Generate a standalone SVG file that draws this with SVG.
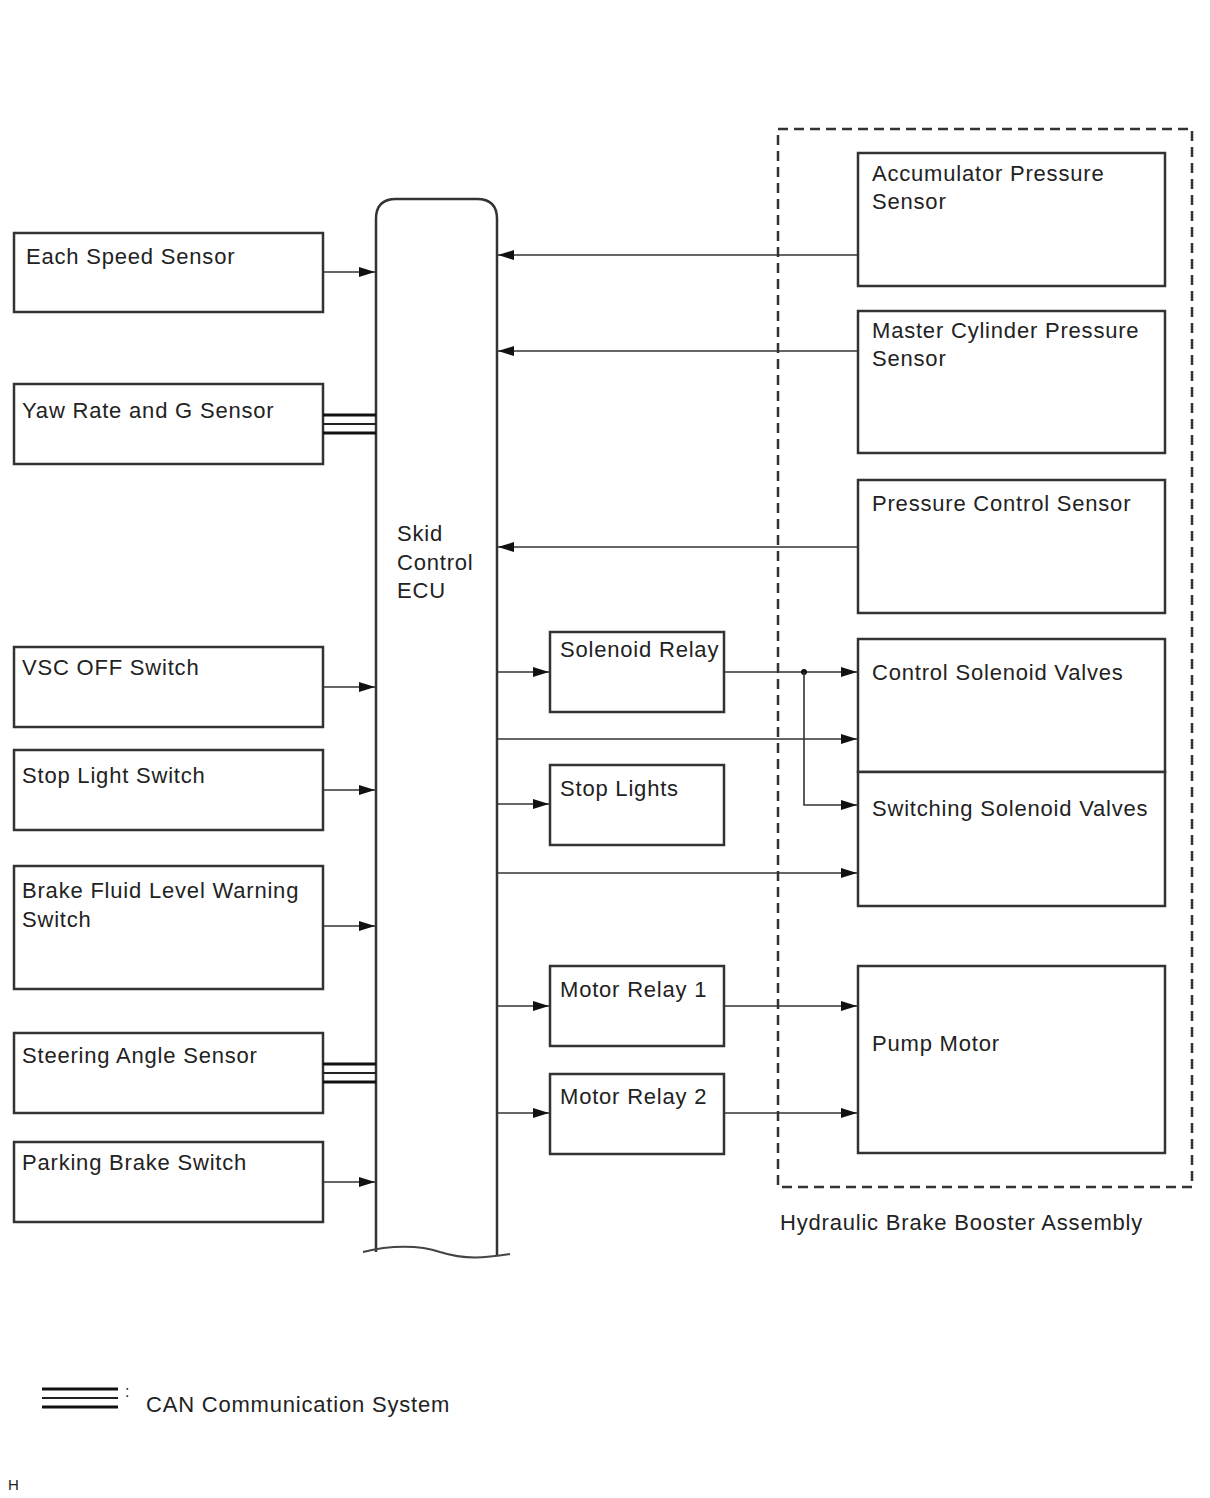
<svg xmlns="http://www.w3.org/2000/svg" width="1210" height="1498" viewBox="0 0 1210 1498">
<style>
.box{fill:#fff;stroke:#333;stroke-width:2.5}
.ln{fill:none;stroke:#333;stroke-width:1.6}
.can{stroke:#111;stroke-width:3}
.can2{stroke:#222;stroke-width:2}
text{font-family:"Liberation Sans",Arial,sans-serif;font-size:22px;letter-spacing:0.8px;fill:#222}
</style>
<defs>
<marker id="ah" markerWidth="16" markerHeight="10" refX="16" refY="5" orient="auto" markerUnits="userSpaceOnUse">
<path d="M0,0 L16,5 L0,10 Z" fill="#111"/>
</marker>
</defs>
<rect width="1210" height="1498" fill="#fff"/>

<g id="hbba">
<rect x="778" y="129" width="414" height="1058" fill="none" stroke="#333" stroke-width="2.5" stroke-dasharray="10,6"/>
<text x="780" y="1230">Hydraulic Brake Booster Assembly</text>
</g>

<g id="ecu">
<path d="M376,1252 L376,219 Q376,199 396,199 L477,199 Q497,199 497,219 L497,1256" class="box" fill="none"/>
<path d="M363,1252 C390,1245 420,1245 440,1252 C465,1260 485,1258 510,1254" fill="none" stroke="#444" stroke-width="2"/>
<text x="397" y="541">Skid</text>
<text x="397" y="570">Control</text>
<text x="397" y="598">ECU</text>
</g>

<g id="each-speed"><rect class="box" x="14" y="233" width="309" height="79"/><text x="26" y="264">Each Speed Sensor</text></g>
<g id="yaw"><rect class="box" x="14" y="384" width="309" height="80"/><text x="22" y="418">Yaw Rate and G Sensor</text></g>
<g id="vsc"><rect class="box" x="14" y="647" width="309" height="80"/><text x="22" y="675">VSC OFF Switch</text></g>
<g id="stoplight-sw"><rect class="box" x="14" y="750" width="309" height="80"/><text x="22" y="783">Stop Light Switch</text></g>
<g id="brake-fluid"><rect class="box" x="14" y="866" width="309" height="123"/><text x="22" y="898">Brake Fluid Level Warning</text><text x="22" y="927">Switch</text></g>
<g id="steering"><rect class="box" x="14" y="1033" width="309" height="80"/><text x="22" y="1063">Steering Angle Sensor</text></g>
<g id="parking"><rect class="box" x="14" y="1142" width="309" height="80"/><text x="22" y="1170">Parking Brake Switch</text></g>

<g id="accumulator"><rect class="box" x="858" y="153" width="307" height="133"/><text x="872" y="181">Accumulator Pressure</text><text x="872" y="209">Sensor</text></g>
<g id="master"><rect class="box" x="858" y="311" width="307" height="142"/><text x="872" y="338">Master Cylinder Pressure</text><text x="872" y="366">Sensor</text></g>
<g id="pressure-control"><rect class="box" x="858" y="480" width="307" height="133"/><text x="872" y="511">Pressure Control Sensor</text></g>
<g id="control-sol"><rect class="box" x="858" y="639" width="307" height="133"/><text x="872" y="680">Control Solenoid Valves</text></g>
<g id="switching-sol"><rect class="box" x="858" y="772" width="307" height="134"/><text x="872" y="816">Switching Solenoid Valves</text></g>
<g id="pump"><rect class="box" x="858" y="966" width="307" height="187"/><text x="872" y="1051">Pump Motor</text></g>

<g id="sol-relay"><rect class="box" x="550" y="632" width="174" height="80"/><text x="560" y="657">Solenoid Relay</text></g>
<g id="stop-lights"><rect class="box" x="550" y="765" width="174" height="80"/><text x="560" y="796">Stop Lights</text></g>
<g id="motor1"><rect class="box" x="550" y="966" width="174" height="80"/><text x="560" y="997">Motor Relay 1</text></g>
<g id="motor2"><rect class="box" x="550" y="1074" width="174" height="80"/><text x="560" y="1104">Motor Relay 2</text></g>

<g id="connectors">
<line class="ln" x1="323" y1="272" x2="375" y2="272" marker-end="url(#ah)"/>
<line class="ln" x1="323" y1="687" x2="375" y2="687" marker-end="url(#ah)"/>
<line class="ln" x1="323" y1="790" x2="375" y2="790" marker-end="url(#ah)"/>
<line class="ln" x1="323" y1="926" x2="375" y2="926" marker-end="url(#ah)"/>
<line class="ln" x1="323" y1="1182" x2="375" y2="1182" marker-end="url(#ah)"/>
<line class="can" x1="323" y1="415" x2="376" y2="415"/>
<line class="can2" x1="323" y1="424" x2="376" y2="424"/>
<line class="can" x1="323" y1="433" x2="376" y2="433"/>
<line class="can" x1="323" y1="1064" x2="376" y2="1064"/>
<line class="can2" x1="323" y1="1073" x2="376" y2="1073"/>
<line class="can" x1="323" y1="1082" x2="376" y2="1082"/>
<line class="ln" x1="858" y1="255" x2="498" y2="255" marker-end="url(#ah)"/>
<line class="ln" x1="858" y1="351" x2="498" y2="351" marker-end="url(#ah)"/>
<line class="ln" x1="858" y1="547" x2="498" y2="547" marker-end="url(#ah)"/>
<line class="ln" x1="497" y1="672" x2="549" y2="672" marker-end="url(#ah)"/>
<line class="ln" x1="724" y1="672" x2="857" y2="672" marker-end="url(#ah)"/>
<circle cx="804" cy="672" r="3" fill="#111"/>
<polyline class="ln" points="804,672 804,805 857,805" marker-end="url(#ah)"/>
<line class="ln" x1="497" y1="739" x2="857" y2="739" marker-end="url(#ah)"/>
<line class="ln" x1="497" y1="804" x2="549" y2="804" marker-end="url(#ah)"/>
<line class="ln" x1="497" y1="873" x2="857" y2="873" marker-end="url(#ah)"/>
<line class="ln" x1="497" y1="1006" x2="549" y2="1006" marker-end="url(#ah)"/>
<line class="ln" x1="724" y1="1006" x2="857" y2="1006" marker-end="url(#ah)"/>
<line class="ln" x1="497" y1="1113" x2="549" y2="1113" marker-end="url(#ah)"/>
<line class="ln" x1="724" y1="1113" x2="857" y2="1113" marker-end="url(#ah)"/>
</g>

<g id="legend">
<line class="can" x1="42" y1="1389" x2="118" y2="1389"/>
<line class="can2" x1="42" y1="1398" x2="118" y2="1398"/>
<line class="can" x1="42" y1="1407" x2="118" y2="1407"/>
<text x="125" y="1397" style="font-size:16px">:</text>
<text x="146" y="1412">CAN Communication System</text>
</g>
<text x="8" y="1490" style="font-size:15px;letter-spacing:0">H</text>
</svg>
